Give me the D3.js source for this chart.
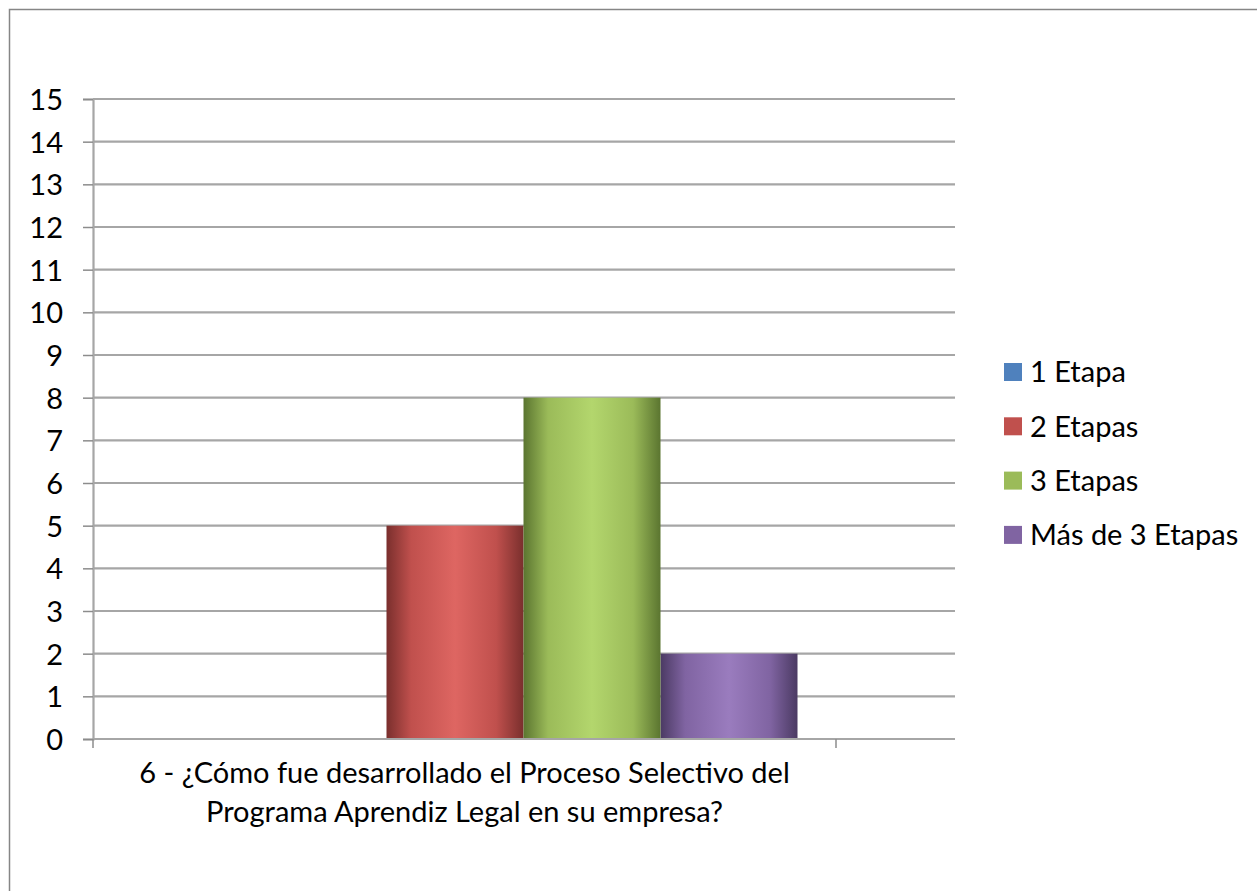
<!DOCTYPE html>
<html>
<head>
<meta charset="utf-8">
<script src="https://cdn.jsdelivr.net/npm/d3@7"></script>
<style>
  body { margin: 0; background: #fff; }
  svg { display: block; }
  text { font-family: Lato, "Open Sans", "Liberation Sans", sans-serif; fill: #000; }
</style>
</head>
<body>
<svg id="chart" width="1257" height="891"></svg>
<script>
// Survey answers: how many stages the selection process had
const categories = ["6 - ¿Cómo fue desarrollado el Proceso Selectivo del Programa Aprendiz Legal en su empresa?"];
const categoryLines = ["6 - ¿Cómo fue desarrollado el Proceso Selectivo del", "Programa Aprendiz Legal en su empresa?"];
const seriesNames = ["1 Etapa", "2 Etapas", "3 Etapas", "Más de 3 Etapas"];
const seriesValues = [0, 5, 8, 2];
const yTicks = [0, 1, 2, 3, 4, 5, 6, 7, 8, 9, 10, 11, 12, 13, 14, 15];

const palette = {
  "1 Etapa":         { base: "#4f81bd", dark: "#2c4d75", light: "#7da5d8" },
  "2 Etapas":        { base: "#c0504d", dark: "#7a2f2d", light: "#de6662" },
  "3 Etapas":        { base: "#9bbb59", dark: "#5b7530", light: "#b3d66d" },
  "Más de 3 Etapas": { base: "#8064a2", dark: "#4b3a63", light: "#9a7cbe" }
};

const fontSize = 29;
const svg = d3.select("#chart");

// outer chart frame
svg.append("rect")
  .attr("x", 9.5).attr("y", 9.5)
  .attr("width", 1300).attr("height", 950)
  .attr("fill", "none").attr("stroke", "#868686").attr("stroke-width", 1.5);

const plot = { left: 93, right: 955, top: 99, bottom: 739, axisEnd: 836 };

const y = d3.scaleLinear().domain([0, 15]).range([plot.bottom, plot.top]);

const x0 = d3.scaleBand().domain(categories).range([plot.left, plot.axisEnd]).padding(0);
// clustered bars sit slightly right of the band centre (depth offset of the column style)
const groupOffset = 59;
const groupWidth = 548;
const x1 = d3.scaleBand().domain(seriesNames).paddingInner(0).paddingOuter(0);

// gradients for the cylinder-like shading
const defs = svg.append("defs");
seriesNames.forEach((s, i) => {
  const c = palette[s];
  const g = defs.append("linearGradient").attr("id", "grad" + i)
    .attr("x1", "0%").attr("x2", "100%").attr("y1", "0%").attr("y2", "0%");
  g.append("stop").attr("offset", "0%").attr("stop-color", c.dark);
  g.append("stop").attr("offset", "18%").attr("stop-color", c.base);
  g.append("stop").attr("offset", "50%").attr("stop-color", c.light);
  g.append("stop").attr("offset", "80%").attr("stop-color", c.base);
  g.append("stop").attr("offset", "100%").attr("stop-color", c.dark);
});

// gridlines
svg.append("g").selectAll("line")
  .data(yTicks)
  .join("line")
  .attr("x1", plot.left).attr("x2", plot.right)
  .attr("y1", d => y(d)).attr("y2", d => y(d))
  .attr("stroke", "#a6a6a6").attr("stroke-width", 2.2);

// y axis
const yAxis = d3.axisLeft(y).tickValues(yTicks).tickSize(10).tickPadding(20).tickFormat(d3.format("d"));
const yg = svg.append("g").attr("transform", `translate(${plot.left},0)`).call(yAxis);
yg.select(".domain").attr("stroke", "#a6a6a6").attr("stroke-width", 2.2);
yg.selectAll(".tick line").attr("stroke", "#8c8c8c").attr("stroke-width", 1.5);
yg.selectAll(".tick text").attr("font-size", fontSize).attr("fill", "#000")
  .attr("font-family", "Lato, 'Open Sans', sans-serif").attr("dy", "0.36em");

// bars
categories.forEach(cat => {
  const cx = x0(cat) + x0.bandwidth() / 2 + groupOffset;
  x1.range([cx - groupWidth / 2, cx + groupWidth / 2]);
  const order = [0, 1, 3, 2]; // green column drawn last, overlapping its neighbour
  svg.append("g").selectAll("rect")
    .data(order.map(i => ({ name: seriesNames[i], value: seriesValues[i], i })))
    .join("rect")
    .attr("x", d => x1(d.name))
    .attr("width", x1.bandwidth())
    .attr("y", d => y(d.value))
    .attr("height", d => y(0) - y(d.value))
    .attr("fill", d => `url(#grad${d.i})`);
});

// x axis
const xg = svg.append("g");
xg.append("line")
  .attr("x1", plot.left).attr("x2", plot.right)
  .attr("y1", y(0)).attr("y2", y(0))
  .attr("stroke", "#a6a6a6").attr("stroke-width", 2.2);
[plot.left, plot.axisEnd].forEach(t => {
  xg.append("line").attr("x1", t).attr("x2", t)
    .attr("y1", y(0)).attr("y2", y(0) + 9)
    .attr("stroke", "#8c8c8c").attr("stroke-width", 1.5);
});

// category label
const catX = x0(categories[0]) + x0.bandwidth() / 2;
const catText = svg.append("text")
  .attr("x", catX).attr("y", 783)
  .attr("text-anchor", "middle").attr("font-size", fontSize);
categoryLines.forEach((line, i) => {
  catText.append("tspan").attr("x", catX).attr("dy", i === 0 ? 0 : 39).text(line);
});

// legend
const legend = svg.append("g");
seriesNames.forEach((s, i) => {
  const ly = 372 + i * 54.3;
  legend.append("rect")
    .attr("x", 1004).attr("y", ly - 9).attr("width", 18).attr("height", 18)
    .attr("fill", palette[s].base);
  legend.append("text")
    .attr("x", 1030).attr("y", ly).attr("dy", "0.36em")
    .attr("font-size", fontSize).text(s);
});
</script>
</body>
</html>
